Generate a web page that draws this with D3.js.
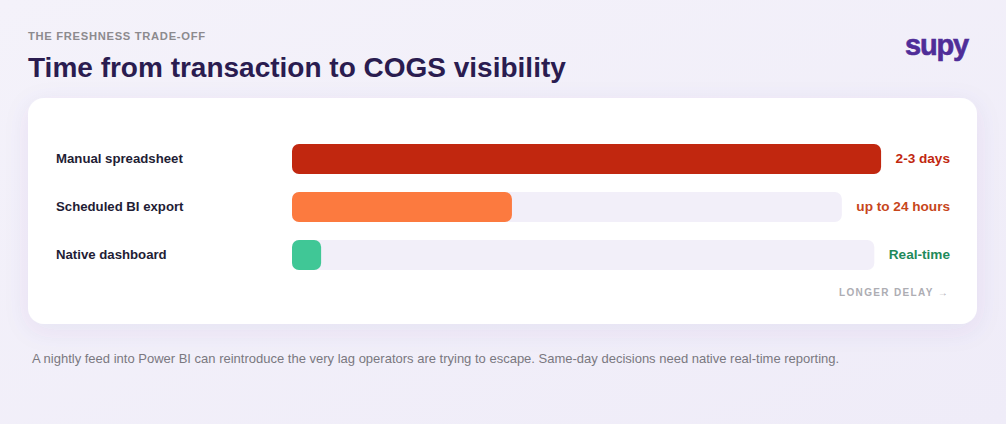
<!DOCTYPE html>
<html><head><meta charset="utf-8">
<script src="https://cdn.jsdelivr.net/npm/d3@7"></script>
<style>
html,body{margin:0;padding:0;background:#f2eff9;}
svg{display:block;font-family:"Liberation Sans",Arial,Helvetica,sans-serif;}
</style></head>
<body>
<svg id="chart" width="1006" height="424"></svg>
<script>
const eyebrow = "THE FRESHNESS TRADE-OFF";
const title = "Time from transaction to COGS visibility";
const brand = "supy";
const categories = ["Manual spreadsheet", "Scheduled BI export", "Native dashboard"];
const fillPercent = [100, 40, 5];
const valueLabels = ["2-3 days", "up to 24 hours", "Real-time"];
const barColors = ["#c1270f", "#fc7a3f", "#40c796"];
const labelColors = ["#c1270f", "#c7461b", "#1f8a5b"];
const axisNote = "LONGER DELAY \u2192";
const footnote = "A nightly feed into Power BI can reintroduce the very lag operators are trying to escape. Same-day decisions need native real-time reporting.";

const svg = d3.select("#chart");
const W = 1006, H = 424;

const defs = svg.append("defs");
const bg = defs.append("linearGradient").attr("id","bg").attr("x1",0).attr("y1",0).attr("x2",1).attr("y2",1);
bg.append("stop").attr("offset","0%").attr("stop-color","#f4f2fa");
bg.append("stop").attr("offset","100%").attr("stop-color","#efecf8");
svg.append("rect").attr("width",W).attr("height",H).attr("fill","url(#bg)");

const f = defs.append("filter").attr("id","shadow").attr("x","-10%").attr("y","-20%").attr("width","120%").attr("height","150%");
f.append("feDropShadow").attr("dx",0).attr("dy",6).attr("stdDeviation",12).attr("flood-color","#5a3fa0").attr("flood-opacity",0.08);

svg.append("text").attr("x",28).attr("y",40).text(eyebrow)
  .attr("font-size",11.2).attr("font-weight",700).attr("letter-spacing",0.7).attr("fill","#8c8a8e");
svg.append("text").attr("x",28).attr("y",76.5).text(title)
  .attr("font-size",28).attr("font-weight",700).attr("fill","#2a1c50");
svg.append("text").attr("x",968).attr("y",55).attr("text-anchor","end").text(brand)
  .attr("font-size",29).attr("font-weight",700).attr("letter-spacing",-1.2).attr("fill","#4f2d98")
  .attr("stroke","#4f2d98").attr("stroke-width",0.6);

const card = {x:28, y:98, w:949, h:226};
svg.append("rect").attr("x",card.x).attr("y",card.y).attr("width",card.w).attr("height",card.h)
  .attr("rx",16).attr("fill","#ffffff").attr("filter","url(#shadow)");

const barLeft = 292, valueRight = 950, gap = 14.5, barH = 30;
const y = d3.scalePoint().domain(categories).range([159, 255]);

const rows = svg.append("g").selectAll("g").data(categories).join("g")
  .attr("transform", d => `translate(0,${y(d)})`);

rows.append("text").attr("x",56).attr("y",-1).attr("dy","0.35em").text(d=>d)
  .attr("font-size",13.2).attr("font-weight",700).attr("fill","#1f1d35");

const vals = rows.append("text").attr("x",valueRight).attr("y",-1).attr("dy","0.35em").attr("text-anchor","end")
  .text((d,i)=>valueLabels[i]).attr("font-size",13.6).attr("font-weight",700)
  .attr("fill",(d,i)=>labelColors[i]);

vals.each(function(d,i){
  const tw = this.getComputedTextLength();
  const trackRight = valueRight - tw - gap;
  const x = d3.scaleLinear().domain([0,100]).range([barLeft, trackRight]);
  const g = d3.select(this.parentNode);
  g.insert("rect","text:nth-of-type(2)").attr("x",x(0)).attr("y",-barH/2).attr("width",x(100)-x(0)).attr("height",barH)
    .attr("rx",7).attr("fill","#f2eff9");
  g.insert("rect","text:nth-of-type(2)").attr("x",x(0)).attr("y",-barH/2).attr("width",x(fillPercent[i])-x(0)).attr("height",barH)
    .attr("rx",7).attr("fill",barColors[i]);
});

svg.append("text").attr("x",949).attr("y",296).attr("text-anchor","end").text(axisNote)
  .attr("font-size",10).attr("font-weight",700).attr("letter-spacing",1.35).attr("fill","#adadb3");

svg.append("text").attr("x",32).attr("y",363).text(footnote)
  .attr("font-size",13).attr("fill","#7a7880");
</script>
</body></html>
